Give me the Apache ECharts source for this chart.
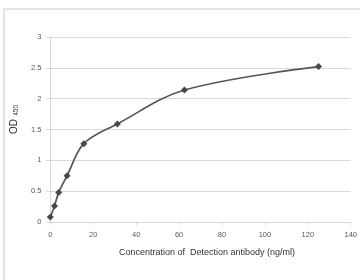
<!DOCTYPE html>
<html>
<head>
<meta charset="utf-8">
<script src="https://cdn.jsdelivr.net/npm/echarts@6/dist/echarts.min.js"></script>
<style>
  html, body { margin: 0; padding: 0; background: #fff; }
  #chart { width: 360px; height: 280px; }
</style>
</head>
<body>
<div id="chart"></div>
<script>
// concentration (ng/ml) and OD450 readings
const concentrations = [0, 1.95, 3.9, 7.8, 15.6, 31.25, 62.5, 125]
const odValues = [0.08, 0.26, 0.48, 0.75, 1.27, 1.59, 2.14, 2.52]

const xTitle = 'Concentration of  Detection antibody (ng/ml)'

const chart = echarts.init(document.getElementById('chart'))

const axisGray = '#d9d9d9'
const textGray = '#595959'

const option = {
  animation: false,
  textStyle: { fontFamily: 'Liberation Sans' },
  graphic: [
    {
      type: 'rect',
      shape: { x: 4, y: 9, width: 420, height: 320 },
      style: { fill: 'none', stroke: '#dcdcdc', lineWidth: 1.5 }
    }
  ],
  grid: { left: 47, right: 8, top: 37, bottom: 58 },
  xAxis: {
    type: 'value',
    min: 0,
    max: 140,
    interval: 20,
    name: xTitle,
    nameLocation: 'middle',
    nameGap: 26,
    nameTextStyle: { fontSize: 9, color: '#333', padding: [0, 0, 0, 13] },
    axisLine: { lineStyle: { color: axisGray } },
    axisTick: { show: true, length: 3, lineStyle: { color: axisGray } },
    axisLabel: { fontSize: 7.5, color: textGray, margin: 9 },
    splitLine: { show: false }
  },
  yAxis: {
    type: 'value',
    min: 0,
    max: 3,
    interval: 0.5,
    name: '{main|OD} {sub|450}',
    nameLocation: 'middle',
    nameGap: 24,
    nameTextStyle: {
      padding: [0, 0, 0, 20],
      rich: {
        main: { fontSize: 10, color: '#333' },
        sub: { fontSize: 6.5, color: '#333', verticalAlign: 'bottom', padding: [4, 0, 0, 0] }
      }
    },
    axisLine: { show: true, lineStyle: { color: axisGray } },
    axisTick: { show: true, length: 4, lineStyle: { color: axisGray } },
    axisLabel: { fontSize: 7.5, color: textGray, margin: 9 },
    splitLine: { lineStyle: { color: axisGray } }
  },
  series: [
    {
      type: 'line',
      data: concentrations.map((c, i) => [c, odValues[i]]),
      smooth: 0.35,
      symbol: 'diamond',
      symbolSize: 7,
      lineStyle: { color: '#555555', width: 1.7 },
      itemStyle: { color: '#474747' }
    }
  ]
}

option && chart.setOption(option)
</script>
</body>
</html>
